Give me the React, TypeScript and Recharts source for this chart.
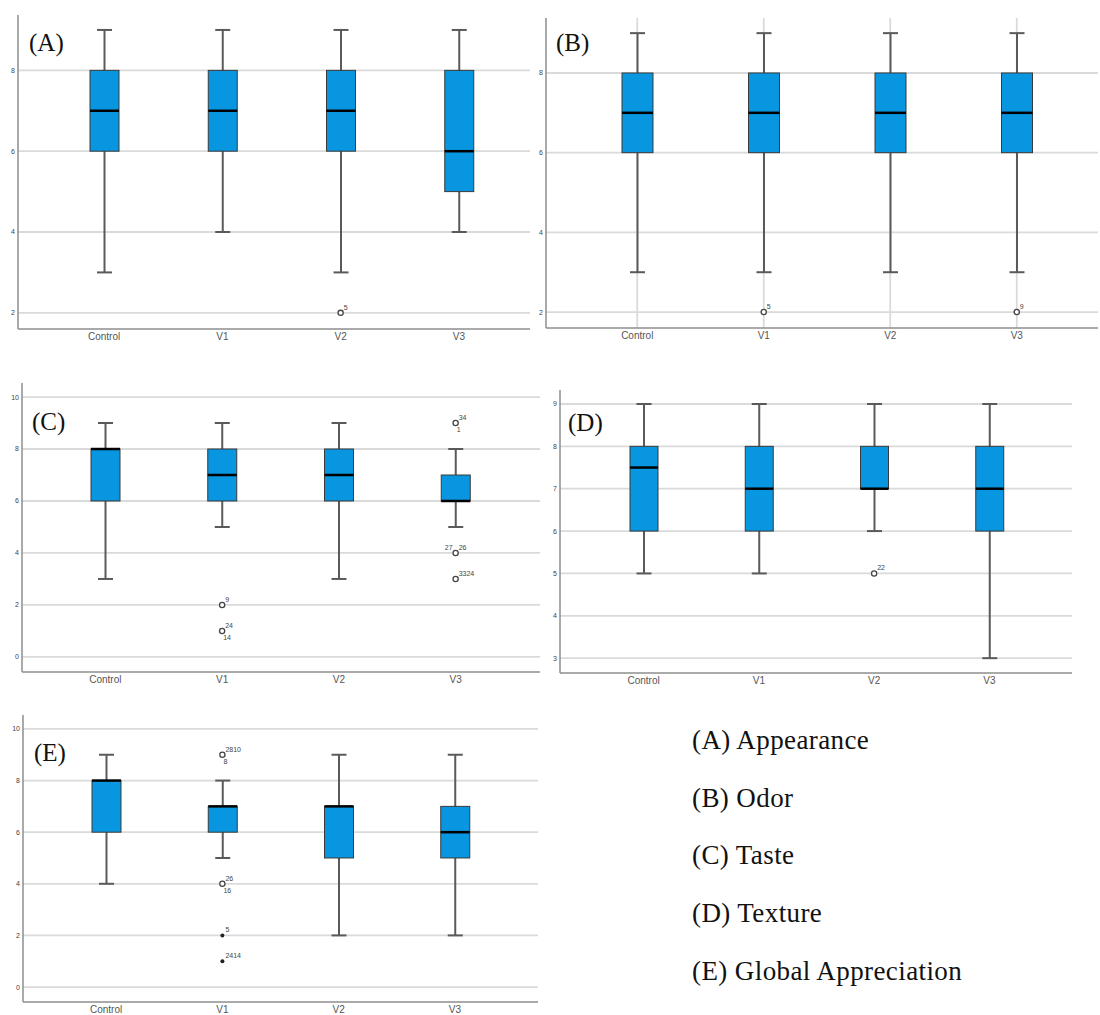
import React from 'react';
import { ComposedChart, Bar, Scatter, XAxis, YAxis, CartesianGrid } from 'recharts';

// groups on the x axis
const categories = ['Control', 'V1', 'V2', 'V3'];

// (A) Appearance
const appearanceMin = [3, 4, 3, 4];
const appearanceQ1 = [6, 6, 6, 5];
const appearanceMedian = [7, 7, 7, 6];
const appearanceQ3 = [8, 8, 8, 8];
const appearanceMax = [9, 9, 9, 9];
const appearanceOutliers = [{ name: 'V2', value: 2, tr: '5' }];

// (B) Odor
const odorMin = [3, 3, 3, 3];
const odorQ1 = [6, 6, 6, 6];
const odorMedian = [7, 7, 7, 7];
const odorQ3 = [8, 8, 8, 8];
const odorMax = [9, 9, 9, 9];
const odorOutliers = [
  { name: 'V1', value: 2, tr: '5' },
  { name: 'V3', value: 2, tr: '9' },
];

// (C) Taste
const tasteMin = [3, 5, 3, 5];
const tasteQ1 = [6, 6, 6, 6];
const tasteMedian = [8, 7, 7, 6];
const tasteQ3 = [8, 8, 8, 7];
const tasteMax = [9, 9, 9, 8];
const tasteOutliers = [
  { name: 'V1', value: 2, tr: '9' },
  { name: 'V1', value: 1, tr: '24', br: '14' },
  { name: 'V3', value: 9, tr: '34', br: '1' },
  { name: 'V3', value: 4, tl: '27', tr: '26' },
  { name: 'V3', value: 3, tr: '3324' },
];

// (D) Texture
const textureMin = [5, 5, 6, 3];
const textureQ1 = [6, 6, 7, 6];
const textureMedian = [7.5, 7, 7, 7];
const textureQ3 = [8, 8, 8, 8];
const textureMax = [9, 9, 9, 9];
const textureOutliers = [{ name: 'V2', value: 5, tr: '22' }];

// (E) Global Appreciation
const globalMin = [4, 5, 2, 2];
const globalQ1 = [6, 6, 5, 5];
const globalMedian = [8, 7, 7, 6];
const globalQ3 = [8, 7, 7, 7];
const globalMax = [9, 8, 9, 9];
const globalOutliers = [
  { name: 'V1', value: 9, tr: '2810', br: '8' },
  { name: 'V1', value: 4, tr: '26', br: '16' },
  { name: 'V1', value: 2, tr: '5', extreme: true },
  { name: 'V1', value: 1, tr: '2414', extreme: true },
];

const legendItems = ['(A) Appearance', '(B) Odor', '(C) Taste', '(D) Texture', '(E) Global Appreciation'];

const ticksEven = [2, 4, 6, 8];
const ticksZeroTen = [0, 2, 4, 6, 8, 10];
const ticksTexture = [3, 4, 5, 6, 7, 8, 9];

const BOX_FILL = '#0896e0';
const GRID = '#dadada';
const AXIS = '#8e8e8e';
const WHISKER = '#5a5a5a';
const SANS = '"Liberation Sans", Arial, sans-serif';
const SERIF = '"Liberation Serif", "Times New Roman", serif';

const buildRows = (min: number[], q1: number[], med: number[], q3: number[], max: number[]) =>
  categories.map((name, i) => ({ name, min: min[i], q1: q1[i], median: med[i], q3: q3[i], max: max[i] }));

// whiskers + box + median, positioned from the [min, max] range bar
const BoxShape = (props: any) => {
  const { x, y, width, height, payload } = props;
  const top = Math.min(y, y + height);
  const bottom = Math.max(y, y + height);
  const { min, max, q1, median, q3 } = payload;
  const toY = (v: number) => top + ((bottom - top) * (max - v)) / (max - min);
  const cx = x + width / 2;
  const cap = 7.5;
  return (
    <g>
      <line x1={cx} x2={cx} y1={toY(max)} y2={toY(min)} stroke={WHISKER} strokeWidth={2} />
      <line x1={cx - cap} x2={cx + cap} y1={toY(max)} y2={toY(max)} stroke={WHISKER} strokeWidth={2} />
      <line x1={cx - cap} x2={cx + cap} y1={toY(min)} y2={toY(min)} stroke={WHISKER} strokeWidth={2} />
      <rect x={x} y={toY(q3)} width={width} height={toY(q1) - toY(q3)} fill={BOX_FILL} stroke="#3a3a3a" strokeWidth={1} />
      <line x1={x} x2={x + width} y1={toY(median)} y2={toY(median)} stroke="#000" strokeWidth={2.5} />
    </g>
  );
};

const OutlierShape = (props: any) => {
  const { cx, cy, payload } = props;
  if (cx == null || cy == null) return <g />;
  const txt = { fontSize: 7, fill: '#444', fontFamily: SANS };
  return (
    <g>
      {payload.extreme ? (
        <circle cx={cx} cy={cy} r={2} fill="#222" />
      ) : (
        <circle cx={cx} cy={cy} r={2.6} fill="#fff" stroke="#444" strokeWidth={1.3} />
      )}
      {payload.tr && (
        <text x={cx + 3} y={cy - 3} {...txt}>
          {payload.tr}
        </text>
      )}
      {payload.tl && (
        <text x={cx - 3} y={cy - 3} textAnchor="end" {...txt}>
          {payload.tl}
        </text>
      )}
      {payload.br && (
        <text x={cx + 1} y={cy + 9} {...txt}>
          {payload.br}
        </text>
      )}
    </g>
  );
};

interface PanelProps {
  box: { left: number; top: number; width: number; height: number };
  plot: { x0: number; x1: number; y0: number; y1: number };
  rows: any[];
  outliers: any[];
  domain: [number, number];
  ticks: number[];
  padding: { left: number; right: number };
  barSize: number;
  verticalGrid?: boolean;
  tag: string;
  tagPos: { x: number; y: number };
}

const Y_W = 18;
const X_H = 13;

function Panel({ box, plot, rows, outliers, domain, ticks, padding, barSize, verticalGrid, tag, tagPos }: PanelProps) {
  const margin = {
    top: plot.y0 - box.top,
    left: plot.x0 - box.left - Y_W,
    right: box.left + box.width - plot.x1,
    bottom: box.top + box.height - plot.y1 - X_H,
  };
  return (
    <div style={{ position: 'absolute', left: box.left, top: box.top, width: box.width, height: box.height }}>
      <ComposedChart width={box.width} height={box.height} data={rows} margin={margin}>
        <CartesianGrid stroke={GRID} strokeWidth={1.8} vertical={!!verticalGrid} syncWithTicks />
        <XAxis
          dataKey="name"
          allowDuplicatedCategory={false}
          padding={padding}
          height={X_H}
          tickLine={false}
          tickSize={4}
          tickMargin={0}
          axisLine={{ stroke: AXIS, strokeWidth: 1.5 }}
          tick={{ fontSize: 10, fill: '#555', fontFamily: SANS }}
        />
        <YAxis
          type="number"
          domain={domain}
          ticks={ticks}
          width={Y_W}
          tickLine={false}
          tickSize={3}
          tickMargin={0}
          axisLine={{ stroke: AXIS, strokeWidth: 1.5 }}
          tick={{ fontSize: 7, fill: '#444', fontFamily: SANS }}
        />
        <Bar
          dataKey={(d: any) => [d.min, d.max]}
          barSize={barSize}
          shape={BoxShape}
          isAnimationActive={false}
        />
        <Scatter data={outliers} dataKey="value" shape={OutlierShape} isAnimationActive={false} />
      </ComposedChart>
      <div
        style={{
          position: 'absolute',
          left: tagPos.x - box.left,
          top: tagPos.y - box.top,
          fontFamily: SERIF,
          fontSize: 25,
          lineHeight: 1,
          color: '#111',
        }}
      >
        {tag}
      </div>
    </div>
  );
}

export default function App() {
  return (
    <div style={{ position: 'absolute', left: 0, top: 0, width: 1100, height: 1015, background: '#fff', overflow: 'hidden' }}>
      <Panel
        box={{ left: 0, top: 0, width: 545, height: 352 }}
        plot={{ x0: 18, x1: 530, y0: 15, y1: 329 }}
        rows={buildRows(appearanceMin, appearanceQ1, appearanceMedian, appearanceQ3, appearanceMax)}
        outliers={appearanceOutliers}
        domain={[1.6, 9.37]}
        ticks={ticksEven}
        padding={{ left: 27, right: 12 }}
        barSize={29}
        tag="(A)"
        tagPos={{ x: 29, y: 30 }}
      />
      <Panel
        box={{ left: 526, top: 0, width: 574, height: 352 }}
        plot={{ x0: 546, x1: 1098, y0: 18, y1: 328 }}
        rows={buildRows(odorMin, odorQ1, odorMedian, odorQ3, odorMax)}
        outliers={odorOutliers}
        domain={[1.6, 9.38]}
        ticks={ticksEven}
        padding={{ left: 28, right: 18 }}
        barSize={31}
        verticalGrid
        tag="(B)"
        tagPos={{ x: 556, y: 30 }}
      />
      <Panel
        box={{ left: 0, top: 370, width: 548, height: 330 }}
        plot={{ x0: 22, x1: 540, y0: 383, y1: 672 }}
        rows={buildRows(tasteMin, tasteQ1, tasteMedian, tasteQ3, tasteMax)}
        outliers={tasteOutliers}
        domain={[-0.58, 10.54]}
        ticks={ticksZeroTen}
        padding={{ left: 25, right: 26 }}
        barSize={29}
        tag="(C)"
        tagPos={{ x: 32, y: 409 }}
      />
      <Panel
        box={{ left: 538, top: 370, width: 562, height: 330 }}
        plot={{ x0: 560, x1: 1072, y0: 390, y1: 673 }}
        rows={buildRows(textureMin, textureQ1, textureMedian, textureQ3, textureMax)}
        outliers={textureOutliers}
        domain={[2.65, 9.33]}
        ticks={ticksTexture}
        padding={{ left: 26, right: 25 }}
        barSize={28}
        tag="(D)"
        tagPos={{ x: 568, y: 410 }}
      />
      <Panel
        box={{ left: 0, top: 700, width: 548, height: 315 }}
        plot={{ x0: 23, x1: 538, y0: 715, y1: 1002 }}
        rows={buildRows(globalMin, globalQ1, globalMedian, globalQ3, globalMax)}
        outliers={globalOutliers}
        domain={[-0.58, 10.54]}
        ticks={ticksZeroTen}
        padding={{ left: 25, right: 25 }}
        barSize={29}
        tag="(E)"
        tagPos={{ x: 34, y: 740 }}
      />
      {legendItems.map((item, i) => (
        <div
          key={item}
          style={{
            position: 'absolute',
            left: 692,
            top: 727 + i * 57.7,
            fontFamily: SERIF,
            fontSize: 27,
            letterSpacing: 0.4,
            lineHeight: 1,
            color: '#111',
            whiteSpace: 'nowrap',
          }}
        >
          {item}
        </div>
      ))}
    </div>
  );
}
